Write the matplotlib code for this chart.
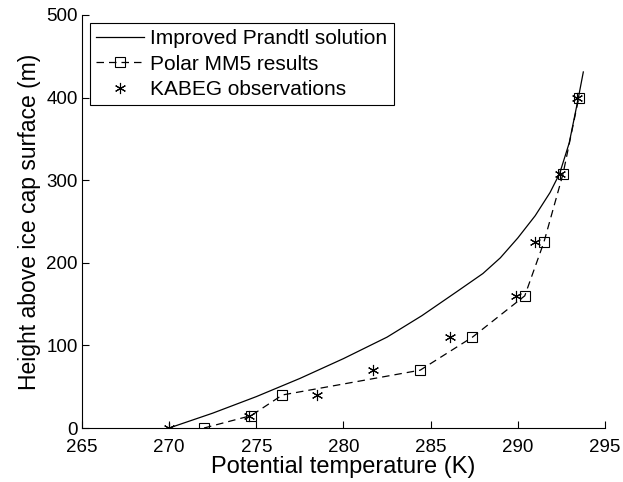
import numpy as np
import matplotlib.pyplot as plt

plt.rcParams['font.family'] = ['Liberation Sans', 'DejaVu Sans']

# Improved Prandtl solution
prandtl_T = [270.0, 272.5, 275.0, 277.5, 280.0, 282.5, 284.5, 286.5, 288.0, 289.0,
             290.0, 291.0, 291.85, 292.4, 292.95, 293.47, 293.76]
prandtl_z = [0, 18, 38, 60, 84, 110, 136, 165, 187, 206,
             230, 257, 285, 308, 345, 399, 431]

# Polar MM5 results
mm5_T = [272.0, 274.7, 276.5, 284.4, 287.4, 290.4, 291.5, 292.6, 293.5]
mm5_z = [0, 15, 40, 70, 110, 160, 225, 308, 400]

# KABEG observations
kabeg_T = [270.0, 274.6, 278.5, 281.7, 286.1, 289.9, 291.0, 292.4, 293.4]
kabeg_z = [0, 15, 40, 70, 110, 160, 225, 308, 400]

fig = plt.figure(figsize=(6.23, 4.82), dpi=100)
ax = fig.add_axes([0.1316, 0.112, 0.8394, 0.857])

ax.plot(prandtl_T, prandtl_z, color='k', lw=0.9, label='Improved Prandtl solution')
ax.plot(mm5_T, mm5_z, color='k', lw=0.9, dashes=(6, 4), marker='s', ms=7,
        mfc='none', mec='k', mew=0.8, label='Polar MM5 results')
ax.plot(kabeg_T, kabeg_z, ls='none', marker=(6, 2, 0), ms=8, mec='k', mew=0.8,
        color='k', label='KABEG observations')

ax.set_xlim(265, 295)
ax.set_ylim(0, 500)
ax.set_xticks(np.arange(265, 296, 5))
ax.set_yticks(np.arange(0, 501, 100))
ax.spines['top'].set_visible(False)
ax.spines['right'].set_visible(False)
for s in ('left', 'bottom'):
    ax.spines[s].set_linewidth(0.8)
ax.tick_params(direction='in', length=5, width=0.8, labelsize=13.5, pad=3)
ax.tick_params(axis='x', pad=8)

ax.set_xlabel('Potential temperature (K)', fontsize=17, labelpad=0)
ax.set_ylabel('Height above ice cap surface (m)', fontsize=16.5, labelpad=4)

leg = ax.legend(loc='upper left', bbox_to_anchor=(0.015, 0.98), fontsize=15,
                frameon=True, fancybox=False, edgecolor='k', framealpha=1,
                handlelength=2.3, handletextpad=0.3, borderpad=0.3,
                labelspacing=0.3, borderaxespad=0)
leg.get_frame().set_linewidth(0.8)

fig.savefig('out.png', dpi=100)
